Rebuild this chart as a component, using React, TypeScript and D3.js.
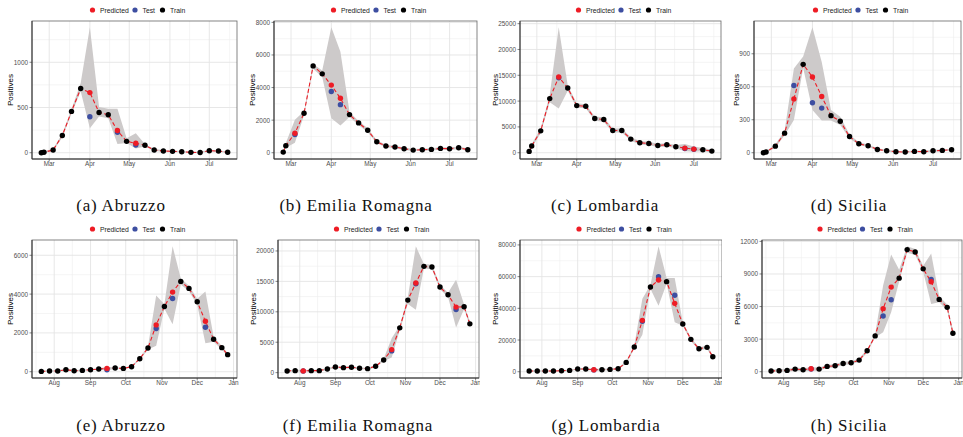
import * as React from 'react';
import * as d3 from 'd3';

// weekly observation dates, first wave (top row) and second wave (bottom row)
const springDates = [
  '2020-02-24', '2020-02-26', '2020-03-04', '2020-03-11', '2020-03-18', '2020-03-25',
  '2020-04-01', '2020-04-08', '2020-04-15', '2020-04-22', '2020-04-29', '2020-05-06',
  '2020-05-13', '2020-05-20', '2020-05-27', '2020-06-03', '2020-06-10', '2020-06-17',
  '2020-06-24', '2020-07-01', '2020-07-08', '2020-07-15',
];
const autumnDates = [
  '2020-07-21', '2020-07-28', '2020-08-04', '2020-08-11', '2020-08-18', '2020-08-25',
  '2020-09-01', '2020-09-08', '2020-09-15', '2020-09-22', '2020-09-29', '2020-10-06',
  '2020-10-13', '2020-10-20', '2020-10-27', '2020-11-03', '2020-11-10', '2020-11-17',
  '2020-11-24', '2020-12-01', '2020-12-08', '2020-12-15', '2020-12-22', '2020-12-27',
];

const _ = null;

// (a) Abruzzo, spring
const abrSpringObs = [0, 5, 30, 190, 457, 710, 397, 445, 420, 227, 126, 85, 82, 30, 19, 15, 11, 4, 2, 22, 19, 5];
const abrSpringPred = [_, _, _, _, _, _, 665, _, _, 245, _, 104, _, _, _, _, _, _, _, _, _, _];
const abrSpringLo = [0, 0, 15, 170, 430, 680, 271, 400, 382, 97, 108, 48, 70, 20, 10, 8, 4, 0, 0, 12, 10, 0];
const abrSpringHi = [10, 15, 45, 210, 480, 772, 1387, 505, 486, 486, 160, 215, 95, 42, 30, 25, 20, 12, 10, 32, 28, 12];

// (b) Emilia Romagna, spring
const emrSpringObs = [40, 430, 1120, 2420, 5330, 4840, 3760, 2950, 2340, 1830, 1380, 670, 410, 350, 245, 160, 185, 205, 265, 245, 305, 185];
const emrSpringPred = [_, _, 1200, _, _, _, 4150, 3340, _, _, _, _, _, _, _, _, _, _, _, _, _, _];
const emrSpringLo = [0, 300, 610, 2300, 5150, 4650, 2120, 1670, 2200, 1700, 1250, 580, 330, 270, 170, 100, 120, 140, 190, 170, 230, 110];
const emrSpringHi = [120, 600, 2030, 2540, 5450, 5050, 7700, 6200, 2500, 1950, 1500, 760, 490, 430, 320, 230, 250, 270, 340, 320, 380, 260];

// (c) Lombardia, spring
const lomSpringObs = [260, 1290, 4240, 10480, 14530, 12540, 9130, 9000, 6620, 6430, 4310, 4310, 2640, 1930, 1800, 1410, 1540, 1160, 820, 660, 580, 320];
const lomSpringPred = [_, _, _, _, 14660, _, _, _, _, _, _, _, _, _, _, _, _, _, 900, 700, _, _];
const lomSpringLo = [0, 900, 3800, 9800, 8550, 12000, 8700, 8600, 6200, 6000, 3900, 3900, 2300, 1600, 1450, 1100, 1200, 850, 300, 200, 300, 50];
const lomSpringHi = [600, 1700, 4700, 11200, 24300, 13000, 9600, 9400, 7000, 6850, 4700, 4700, 3000, 2250, 2150, 1750, 1850, 1500, 1700, 1200, 900, 600];

// (d) Sicilia, spring
const sicSpringObs = [0, 6, 60, 178, 611, 804, 455, 406, 337, 286, 147, 81, 63, 30, 18, 9, 6, 12, 9, 18, 21, 27];
const sicSpringPred = [_, _, _, _, 488, _, 689, 512, _, _, _, _, _, _, _, _, _, _, _, _, _, _];
const sicSpringLo = [0, 0, 45, 160, 298, 770, 388, 292, 292, 253, 130, 70, 52, 22, 10, 3, 0, 5, 3, 10, 14, 18];
const sicSpringHi = [8, 15, 75, 200, 765, 876, 1141, 825, 388, 328, 165, 95, 75, 40, 28, 16, 14, 20, 16, 27, 30, 36];

// (e) Abruzzo, autumn
const abrAutumnObs = [17, 34, 34, 103, 52, 69, 103, 138, 103, 190, 172, 259, 672, 1224, 2224, 3362, 3776, 4655, 4293, 3603, 2293, 1672, 1241, 879];
const abrAutumnPred = [_, _, _, _, _, _, _, _, 172, _, _, _, _, _, 2414, _, 4103, _, _, _, 2603, _, _, _];
const abrAutumnLo = [0, 10, 10, 70, 25, 40, 75, 110, 50, 160, 140, 220, 620, 1150, 1345, 3250, 2448, 4500, 4150, 3450, 1465, 1550, 1150, 800];
const abrAutumnHi = [50, 70, 70, 140, 85, 100, 140, 170, 260, 220, 210, 300, 730, 1300, 3931, 3480, 6465, 4800, 4430, 3758, 4138, 1800, 1330, 960];

// (f) Emilia Romagna, autumn
const emrAutumnObs = [275, 330, 260, 330, 330, 604, 934, 824, 879, 714, 659, 1044, 2088, 3570, 7363, 11924, 14617, 17474, 17364, 14067, 12803, 10386, 10825, 8023];
const emrAutumnPred = [_, _, 290, _, _, _, _, _, _, _, _, _, _, 3790, _, _, 14727, _, _, _, _, 10770, _, _];
const emrAutumnLo = [150, 200, 150, 200, 200, 450, 780, 680, 730, 570, 510, 880, 1900, 2473, 7000, 11300, 10331, 17100, 17000, 13700, 12450, 7418, 10450, 7650];
const emrAutumnHi = [400, 460, 420, 460, 460, 760, 1090, 970, 1030, 860, 810, 1200, 2280, 5660, 7750, 12350, 20771, 17850, 17750, 14450, 13150, 15276, 11200, 8400];

// (g) Lombardia, autumn
const lomAutumnObs = [421, 421, 421, 421, 632, 842, 1684, 1684, 1150, 1263, 1474, 1895, 5894, 15577, 31800, 53467, 59993, 56835, 48205, 30102, 20419, 14525, 15367, 9473];
const lomAutumnPred = [_, _, _, _, _, _, _, _, 1263, _, _, _, _, _, 32417, _, 57888, _, 43153, _, _, _, _, _];
const lomAutumnLo = [0, 0, 0, 0, 200, 400, 1200, 1200, 600, 800, 1000, 1400, 5000, 14500, 23366, 52300, 41680, 55500, 31150, 29000, 19400, 13500, 14300, 8500];
const lomAutumnHi = [900, 900, 900, 900, 1100, 1300, 2200, 2200, 1900, 1800, 2000, 2400, 6800, 16600, 46100, 54700, 79150, 59150, 59150, 31200, 21400, 15500, 16400, 10500];

// (h) Sicilia, autumn
const sicAutumnObs = [61, 92, 122, 244, 183, 250, 244, 489, 550, 764, 825, 1069, 1925, 3299, 5132, 6629, 8615, 11242, 11029, 9470, 8493, 6660, 5927, 3544];
const sicAutumnPred = [_, _, _, _, _, 275, _, _, _, _, _, _, _, _, 5805, 7790, _, _, _, _, 8279, _, _, _];
const sicAutumnLo = [0, 0, 0, 100, 50, 100, 100, 350, 400, 620, 680, 920, 1780, 3150, 3635, 5468, 8300, 10950, 10750, 9200, 6232, 6400, 5650, 3250];
const sicAutumnHi = [200, 230, 260, 390, 320, 420, 390, 630, 700, 910, 970, 1220, 2070, 3450, 7973, 10784, 9400, 11550, 11300, 9750, 10876, 6950, 6200, 3850];

const yTicksList = [
  [0, 500, 1000],
  [0, 2000, 4000, 6000, 8000],
  [0, 5000, 10000, 15000, 20000, 25000],
  [0, 300, 600, 900],
  [0, 2000, 4000, 6000],
  [0, 5000, 10000, 15000, 20000],
  [0, 20000, 40000, 60000, 80000],
  [0, 3000, 6000, 9000, 12000],
];

const captions = [
  '(a) Abruzzo', '(b) Emilia Romagna', '(c) Lombardia', '(d) Sicilia',
  '(e) Abruzzo', '(f) Emilia Romagna', '(g) Lombardia', '(h) Sicilia',
];

const legendItems = ['Predicted', 'Test', 'Train'];

const colors = {
  Predicted: '#ee1c25',
  Test: '#3d4ea1',
  Train: '#000000',
};

const series = [
  { dates: springDates, obs: abrSpringObs, pred: abrSpringPred, lo: abrSpringLo, hi: abrSpringHi },
  { dates: springDates, obs: emrSpringObs, pred: emrSpringPred, lo: emrSpringLo, hi: emrSpringHi },
  { dates: springDates, obs: lomSpringObs, pred: lomSpringPred, lo: lomSpringLo, hi: lomSpringHi },
  { dates: springDates, obs: sicSpringObs, pred: sicSpringPred, lo: sicSpringLo, hi: sicSpringHi },
  { dates: autumnDates, obs: abrAutumnObs, pred: abrAutumnPred, lo: abrAutumnLo, hi: abrAutumnHi },
  { dates: autumnDates, obs: emrAutumnObs, pred: emrAutumnPred, lo: emrAutumnLo, hi: emrAutumnHi },
  { dates: autumnDates, obs: lomAutumnObs, pred: lomAutumnPred, lo: lomAutumnLo, hi: lomAutumnHi },
  { dates: autumnDates, obs: sicAutumnObs, pred: sicAutumnPred, lo: sicAutumnLo, hi: sicAutumnHi },
];

// layout of the 8 sub-figures (image bounds, plot area, caption centre)
const layout = [
  { x0: 0, x1: 240, left: 32, right: 237, top: 21, bottom: 159, legendY: 10, capX: 121, capY: 211 },
  { x0: 240, x1: 480, left: 274, right: 477, top: 21, bottom: 159, legendY: 10, capX: 356, capY: 211 },
  { x0: 480, x1: 722, left: 520, right: 721, top: 21, bottom: 159, legendY: 10, capX: 605, capY: 211 },
  { x0: 722, x1: 963, left: 754, right: 961, top: 21, bottom: 159, legendY: 10, capX: 849, capY: 211 },
  { x0: 0, x1: 240, left: 32, right: 237, top: 240, bottom: 378, legendY: 229, capX: 121, capY: 431 },
  { x0: 240, x1: 480, left: 278, right: 479, top: 240, bottom: 378, legendY: 229, capX: 358, capY: 431 },
  { x0: 480, x1: 722, left: 520, right: 722, top: 240, bottom: 378, legendY: 229, capX: 606, capY: 431 },
  { x0: 722, x1: 963, left: 762, right: 962, top: 240, bottom: 378, legendY: 229, capX: 849, capY: 431 },
];

const parseDay = d3.timeParse('%Y-%m-%d');
const sans = '"Liberation Sans", Arial, Helvetica, sans-serif';

const Panel = ({ idx }: { idx: number }) => {
  const s = series[idx];
  const L = layout[idx];
  const yTicks = yTicksList[idx];
  const dates = s.dates.map((d) => parseDay(d) as Date);
  const t0 = +dates[0];
  const t1 = +dates[dates.length - 1];
  const tPad = (t1 - t0) * 0.05;
  const x = d3.scaleTime()
    .domain([new Date(t0 - tPad), new Date(t1 + tPad)])
    .range([L.left, L.right]);

  const predVals = s.pred.filter((v) => v != null) as number[];
  const all = [...s.obs, ...s.lo, ...s.hi, ...predVals];
  const yMin = d3.min(all) as number;
  const yMax = d3.max(all) as number;
  const yPad = (yMax - yMin) * 0.05;
  const y = d3.scaleLinear()
    .domain([yMin - yPad, yMax + yPad])
    .range([L.bottom, L.top]);
  const [yd0, yd1] = y.domain();

  // month gridlines, minor ones halfway between months
  const [xd0, xd1] = x.domain();
  const months = d3.timeMonth.range(xd0, xd1);
  const allMonths = d3.timeMonth.range(d3.timeMonth.offset(d3.timeMonth.floor(xd0), -1), d3.timeMonth.offset(xd1, 1));
  const minorX: Date[] = [];
  for (let i = 0; i < allMonths.length - 1; i += 1) {
    const mid = new Date((+allMonths[i] + +allMonths[i + 1]) / 2);
    if (mid > xd0 && mid < xd1) minorX.push(mid);
  }
  const step = yTicks[1] - yTicks[0];
  const minorY = [...yTicks.map((t) => t - step / 2), yTicks[yTicks.length - 1] + step / 2]
    .filter((v) => v > yd0 && v < yd1);

  const ribbon = d3.area<number>()
    .x((i) => x(dates[i]))
    .y0((i) => y(s.lo[i]))
    .y1((i) => y(s.hi[i]));

  const fitLine = d3.line<number>()
    .x((i) => x(dates[i]))
    .y((i) => y(s.pred[i] != null ? (s.pred[i] as number) : s.obs[i]));

  const idxs = d3.range(dates.length);
  const trainIdx = idxs.filter((i) => s.pred[i] == null);
  const testIdx = idxs.filter((i) => s.pred[i] != null);

  const maxChars = d3.max(yTicks, (t) => String(t).length) as number;
  const yLabelX = L.left - 4 - maxChars * 3.5 - 3.5;
  const midY = (L.top + L.bottom) / 2;
  const legendCx = (L.left + L.right) / 2 + 4;
  const legendDx = [-46, -3.5, 24];
  const clipId = `clip-${idx}`;

  return (
    <g>
      <defs>
        <clipPath id={clipId}>
          <rect x={L.x0} y={L.top - 25} width={L.x1 - L.x0} height={L.bottom - L.top + 45} />
        </clipPath>
      </defs>
      <g clipPath={`url(#${clipId})`}>
        {/* legend */}
        {legendItems.map((k, i) => (
          <g key={k}>
            <circle cx={legendCx + legendDx[i]} cy={L.legendY} r={2.6} fill={colors[k]} />
            <text
              x={legendCx + legendDx[i] + 7.5}
              y={L.legendY}
              dominantBaseline="central"
              fontSize={6.8}
              fontFamily={sans}
              fill="#222"
            >
              {k}
            </text>
          </g>
        ))}

        {/* grid */}
        <rect x={L.left} y={L.top} width={L.right - L.left} height={L.bottom - L.top} fill="#fff" />
        {minorY.map((v) => (
          <line key={`my${v}`} x1={L.left} x2={L.right} y1={y(v)} y2={y(v)} stroke="#efefef" strokeWidth={0.6} />
        ))}
        {minorX.map((d) => (
          <line key={`mx${+d}`} x1={x(d)} x2={x(d)} y1={L.top} y2={L.bottom} stroke="#efefef" strokeWidth={0.6} />
        ))}
        {yTicks.map((v) => (
          <line key={`gy${v}`} x1={L.left} x2={L.right} y1={y(v)} y2={y(v)} stroke="#e4e4e4" strokeWidth={0.9} />
        ))}
        {months.map((d) => (
          <line key={`gx${+d}`} x1={x(d)} x2={x(d)} y1={L.top} y2={L.bottom} stroke="#e4e4e4" strokeWidth={0.9} />
        ))}

        {/* confidence band, fitted line and points */}
        <path d={ribbon(idxs) || ''} fill="#cdcaca" />
        <path d={fitLine(idxs) || ''} fill="none" stroke={colors.Predicted} strokeWidth={1.1} strokeDasharray="4,2.5" />
        {trainIdx.map((i) => (
          <circle key={`tr${i}`} cx={x(dates[i])} cy={y(s.obs[i])} r={2.7} fill={colors.Train} />
        ))}
        {testIdx.map((i) => (
          <circle key={`te${i}`} cx={x(dates[i])} cy={y(s.obs[i])} r={2.7} fill={colors.Test} />
        ))}
        {testIdx.map((i) => (
          <circle key={`pr${i}`} cx={x(dates[i])} cy={y(s.pred[i] as number)} r={2.7} fill={colors.Predicted} />
        ))}

        {/* frame */}
        <rect x={L.left} y={L.top} width={L.right - L.left} height={L.bottom - L.top} fill="none" stroke="#666" strokeWidth={0.8} />
        <line x1={L.left} x2={L.left} y1={L.top} y2={L.bottom} stroke="#333" strokeWidth={1} />
        <line x1={L.left} x2={L.right} y1={L.bottom} y2={L.bottom} stroke="#333" strokeWidth={1} />

        {/* y axis */}
        {yTicks.map((v) => (
          <g key={`yt${v}`}>
            <line x1={L.left - 2.5} x2={L.left} y1={y(v)} y2={y(v)} stroke="#333" strokeWidth={0.6} />
            <text
              x={L.left - 4}
              y={y(v)}
              textAnchor="end"
              dominantBaseline="central"
              fontSize={6.4}
              fontFamily={sans}
              fill="#4d4d4d"
            >
              {v}
            </text>
          </g>
        ))}
        <text
          transform={`translate(${yLabelX},${midY}) rotate(-90)`}
          textAnchor="middle"
          dominantBaseline="central"
          fontSize={8}
          fontFamily={sans}
          fill="#000"
        >
          Positives
        </text>

        {/* x axis */}
        {months.map((d) => (
          <g key={`xt${+d}`}>
            <line x1={x(d)} x2={x(d)} y1={L.bottom} y2={L.bottom + 2.5} stroke="#333" strokeWidth={0.6} />
            <text
              x={x(d)}
              y={L.bottom + 7.2}
              textAnchor="middle"
              fontSize={6.4}
              fontFamily={sans}
              fill="#4d4d4d"
            >
              {d3.timeFormat('%b')(d)}
            </text>
          </g>
        ))}
      </g>

      {/* caption */}
      <text
        x={L.capX}
        y={L.capY}
        textAnchor="middle"
        fontSize={17}
        letterSpacing={0.8}
        fontFamily='"Liberation Serif", "Times New Roman", serif'
        fill="#111"
      >
        {captions[idx]}
      </text>
    </g>
  );
};

const App = () => (
  <svg width={963} height={437} style={{ display: 'block', position: 'absolute', left: 0, top: 0, background: '#fff' }}>
    <rect width={963} height={437} fill="#fff" />
    {series.map((_s, i) => <Panel key={i} idx={i} />)}
  </svg>
);

export default App;
